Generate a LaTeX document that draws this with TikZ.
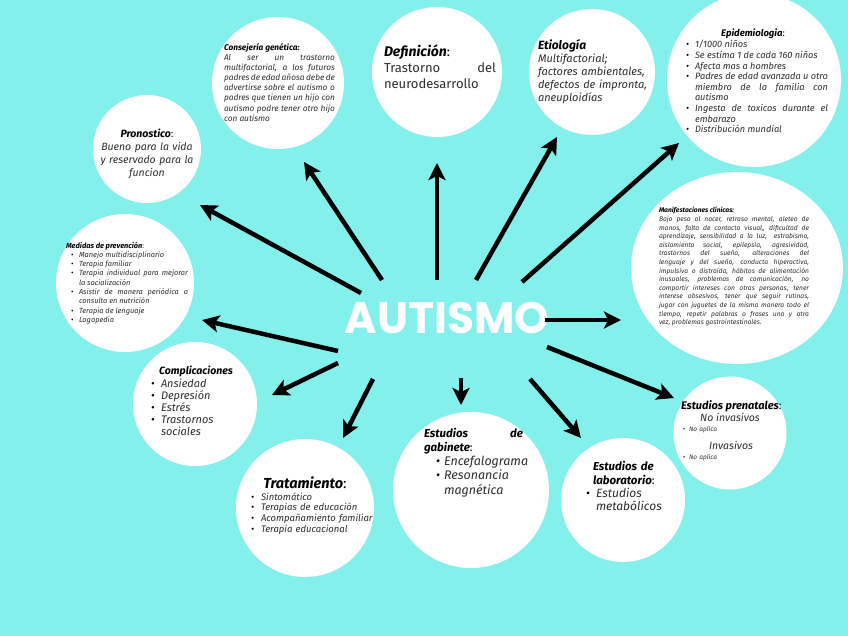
\documentclass[tikz,border=0pt]{standalone}
\usepackage{fontspec}
\setmainfont{Fira Sans}
\newfontfamily\popfont{Poppins}
\usetikzlibrary{arrows.meta,shapes.geometric}
\definecolor{bgcyan}{RGB}{132,240,236}
\definecolor{bodygray}{RGB}{45,45,45}
\hyphenpenalty=10000
\exhyphenpenalty=10000
\tolerance=9999
% bullet item: #1 indent, #2 bullet offset, #3 text
\newcommand{\bitem}[3]{\noindent\hangindent=#1\hangafter=1\makebox[#1][l]{\hspace*{#2}{\color{black}\textbullet}}#3\par}
\begin{document}
\begin{tikzpicture}[x=1pt,y=-1pt,
  bubble/.style={circle,fill=white,draw=none,inner sep=0pt},
  arr/.style={line width=4.5pt,black,-{Stealth[length=17pt,width=17pt,inset=4pt]}},
  txt/.style={inner sep=0pt,outer sep=0pt,text=bodygray},
  ttl/.style={inner sep=0pt,outer sep=0pt,text=black,font=\bfseries\itshape}]
\useasboundingbox (0,0) rectangle (848,636);
\clip (0,0) rectangle (848,636);
\fill[bgcyan] (0,0) rectangle (848,636);

% circles
\node[bubble,minimum size=132pt] (cons) at (278,83) {};
\node[bubble,minimum size=108pt] (pron) at (147,149) {};
\node[bubble,minimum size=138pt] (medi) at (125,283) {};
\node[bubble,minimum size=130pt] (defi) at (437,72) {};
\node[bubble,minimum size=126pt] (etio) at (592,72) {};
\node[bubble,minimum size=174pt] (epid) at (754,80) {};
\node[ellipse,fill=white,inner sep=0pt,minimum width=212pt,minimum height=192pt] (mani) at (737,268) {};
\node[bubble,minimum size=124pt] (comp) at (195,404) {};
\node[bubble,minimum size=138pt] (trat) at (305,508) {};
\node[bubble,minimum size=156pt] (gabi) at (471,490) {};
\node[bubble,minimum size=124pt] (labo) at (623,500) {};
\node[bubble,minimum size=113pt] (pren) at (730,433) {};

% central title
\node[inner sep=0pt,text=white,font=\popfont\bfseries\fontsize{44}{44}\selectfont] (autismo) at (447,318) {AUTISMO};

% Consejeria
\node[txt,anchor=base west,text width=111pt,align=justify,font=\fontsize{8.3}{10.1}\selectfont] (tcons) at (224,50.5)
 {{\color{black}\bfseries\itshape Consejería genética:}\par\itshape Al ser un trastorno\linebreak multifactorial, a los futuros\linebreak padres de edad añosa debe de\linebreak advertirse sobre el autismo o\linebreak padres que tienen un hijo con\linebreak autismo podre tener otro hijo\linebreak con autismo};

% Pronostico
\node[txt,anchor=base,text width=104pt,align=center,font=\fontsize{10.5}{13}\selectfont] (tpron) at (147,138)
 {{\color{black}\bfseries\itshape Pronostico}:\\ \itshape Bueno para la vida\\ y reservado para la\\ funcion};

% Medidas
\node[txt,anchor=base west,text width=122pt,align=justify,font=\fontsize{7.4}{9.3}\selectfont] (tmedi) at (66,248)
 {{\color{black}\bfseries\itshape Medidas de prevención}:\par\itshape
 \bitem{13pt}{5pt}{Manejo multidisciplinario}
 \bitem{13pt}{5pt}{Terapia familiar}
 \bitem{13pt}{5pt}{Terapia individual para mejorar\linebreak la socialización}
 \bitem{13pt}{5pt}{Asistir de manera periódica a\linebreak consulta en nutrición}
 \bitem{13pt}{5pt}{Terapia de lenguaje}
 \bitem{13pt}{5pt}{Logopedia}};

% Definicion
\node[txt,anchor=base west,text width=112pt,align=justify,font=\fontsize{13}{16}\selectfont] (tdefi) at (384,57)
 {{\color{black}\fontsize{14}{16}\selectfont\bfseries\itshape Definición}{\color{black}:}\par Trastorno del\linebreak neurodesarrollo};

% Etiologia
\node[txt,anchor=base west,text width=115pt,align=left,font=\fontsize{11}{12.8}\selectfont] (tetio) at (538,50)
 {{\color{black}\fontsize{12}{12.8}\selectfont\bfseries\itshape Etiología}\\ \itshape Multifactorial;\\ factores ambientales,\\ defectos de impronta,\\ aneuploidías};

% Epidemiologia
\node[ttl,anchor=base,font=\fontsize{9.5}{10.6}\selectfont\bfseries\itshape] (ttepid) at (753,37) {Epidemiologia{\mdseries\upshape :}};
\node[txt,anchor=base west,text width=142pt,align=justify,font=\fontsize{9.2}{10.6}\selectfont\itshape] (tepid) at (686,48)
 {\bitem{9pt}{0pt}{1/1000 niños}
  \bitem{9pt}{0pt}{Se estima 1 de cada 160 niños}
  \bitem{9pt}{0pt}{Afecta mas a hombres}
  \bitem{9pt}{0pt}{Padres de edad avanzada u otro\linebreak miembro de la familia con\linebreak autismo}
  \bitem{9pt}{0pt}{Ingesta de toxicos durante el\linebreak embarazo}
  \bitem{9pt}{0pt}{Distribución mundial}};

% Manifestaciones
\node[txt,anchor=base west,text width=150pt,align=justify,font=\fontsize{6.7}{8.6}\selectfont] (tmani) at (659,213)
 {{\color{black}\bfseries\itshape Manifestaciones clínicas:}\par\itshape Bajo peso al nacer, retraso mental, aleteo de\linebreak manos, falta de contacto visual,, dificultad de\linebreak aprendizaje, sensibilidad a la luz,\ \ estrabismo,\linebreak aislamiento social, epilepsia, agresividad,\linebreak trastornos del sueño, alteraciones del\linebreak lenguaje y del sueño, conducta hiperactiva,\linebreak impulsiva o distraída, hábitos de alimentación\linebreak inusuales, problemas de comunicación, no\linebreak compartir intereses con otras personas, tener\linebreak interese obsesivos, tener que seguir rutinas,\linebreak jugar con juguetes de la misma manera todo el\linebreak tiempo, repetir palabras o frases una y otra\linebreak vez, problemas gastrointestinales.};

% Complicaciones
\node[ttl,anchor=base,font=\fontsize{10.5}{12}\selectfont\bfseries\itshape] (ttcomp) at (196,374) {Complicaciones};
\node[txt,anchor=base west,text width=100pt,align=justify,font=\fontsize{11}{12}\selectfont\itshape] (tcomp) at (151,387)
 {\bitem{10pt}{0pt}{Ansiedad}
  \bitem{10pt}{0pt}{Depresión}
  \bitem{10pt}{0pt}{Estrés}
  \bitem{10pt}{0pt}{Trastornos\linebreak sociales}};

% Tratamiento
\node[ttl,anchor=base,font=\fontsize{14.5}{16}\selectfont\bfseries\itshape] (tttrat) at (305,488) {Tratamiento{\mdseries\upshape :}};
\node[txt,anchor=base west,text width=135pt,align=left,font=\fontsize{9.5}{10.7}\selectfont\itshape] (ttrat) at (251,500)
 {\bitem{10pt}{0pt}{Sintomático}
  \bitem{10pt}{0pt}{Terapias de educación}
  \bitem{10pt}{0pt}{Acompañamiento familiar}
  \bitem{10pt}{0pt}{Terapia educacional}};

% Gabinete
\node[txt,anchor=base west,text width=99pt,align=justify,font=\fontsize{11.5}{14}\selectfont] (ttgabi) at (424,437)
 {{\color{black}\bfseries\itshape Estudios de\linebreak gabinete}{\color{black}:}};
\node[txt,anchor=base west,text width=100pt,align=justify,font=\fontsize{12.5}{14.5}\selectfont\itshape] (tgabi) at (436,465)
 {\bitem{8pt}{0pt}{Encefalograma}
  \bitem{8pt}{0pt}{Resonancia\linebreak magnética}};

% Laboratorio
\node[txt,anchor=base west,text width=90pt,align=left,font=\fontsize{11.5}{14}\selectfont] (ttlabo) at (593,470)
 {{\color{black}\bfseries\itshape Estudios de\\ laboratorio}{\color{black}:}};
\node[txt,anchor=base west,text width=90pt,align=justify,font=\fontsize{12}{13}\selectfont\itshape] (tlabo) at (586,497)
 {\bitem{10pt}{0pt}{Estudios\linebreak metabólicos}};

% Prenatales
\node[ttl,anchor=base west,font=\fontsize{11}{12}\selectfont\bfseries\itshape] (ttpren) at (681,409) {Estudios prenatales{\mdseries\upshape :}};
\node[txt,anchor=base,font=\fontsize{10.5}{12}\selectfont\itshape] (tpren1) at (730,421) {No invasivos};
\node[txt,anchor=base west,text width=60pt,align=left,font=\fontsize{6.5}{8}\selectfont\itshape] (tpren2) at (683,431) {\bitem{6pt}{0pt}{No aplica}};
\node[txt,anchor=base,font=\fontsize{10.5}{12}\selectfont\itshape] (tpren3) at (731,449) {Invasivos};
\node[txt,anchor=base west,text width=60pt,align=left,font=\fontsize{6.5}{8}\selectfont\itshape] (tpren4) at (683,459) {\bitem{6pt}{0pt}{No aplica}};

% arrow end points
\coordinate (t1) at (361,293);  \coordinate (h1) at (200,205);
\coordinate (t2) at (382,280);  \coordinate (h2) at (304,162);
\coordinate (t3) at (437,280);  \coordinate (h3) at (437,163);
\coordinate (t4) at (476,280);  \coordinate (h4) at (557,137);
\coordinate (t5) at (522,282);  \coordinate (h5) at (679,143);
\coordinate (t6) at (545,320);  \coordinate (h6) at (621,320);
\coordinate (t7) at (547,347);  \coordinate (h7) at (674,398);
\coordinate (t8) at (530,379);  \coordinate (h8) at (581,438);
\coordinate (t9) at (461,378);  \coordinate (h9) at (461,405);
\coordinate (t10) at (373,379); \coordinate (h10) at (343,438);
\coordinate (t11) at (338,363); \coordinate (h11) at (272,395);
\coordinate (t12) at (338,351); \coordinate (h12) at (202,320);
\foreach \i in {1,...,12} { \draw[arr] (t\i) -- (h\i); }
\end{tikzpicture}
\end{document}
